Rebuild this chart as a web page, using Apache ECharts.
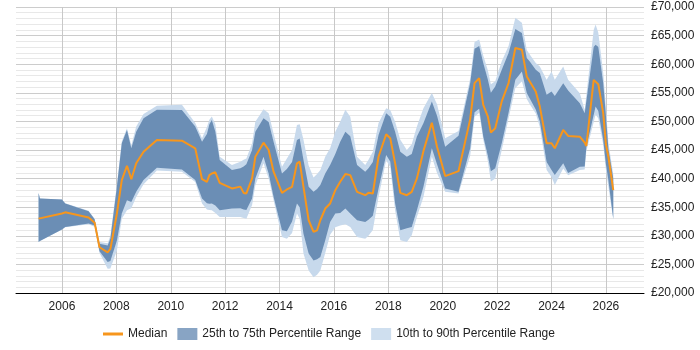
<!DOCTYPE html>
<html>
<head>
<meta charset="utf-8">
<title>Salary percentiles</title>
<script src="https://cdn.jsdelivr.net/npm/echarts@6/dist/echarts.min.js"></script>
<style>
  html, body { margin: 0; padding: 0; background: #fff; }
  #chart { width: 700px; height: 350px; }
</style>
</head>
<body>
<div id="chart"></div>
<script>
// decimal years of each sample
const periods = [
  2005.14, 2005.19, 2006.0, 2006.12, 2006.98, 2007.2, 2007.38, 2007.68, 2007.78, 2008.02,
  2008.2, 2008.39, 2008.55, 2008.73, 2009.0, 2009.49, 2010.41, 2010.9, 2011.15, 2011.33,
  2011.42, 2011.51, 2011.64, 2011.8, 2012.25, 2012.56, 2012.68, 2012.78, 2012.99, 2013.11,
  2013.41, 2013.6, 2013.78, 2014.09, 2014.27, 2014.46, 2014.64, 2014.74, 2014.88, 2015.07,
  2015.25, 2015.38, 2015.5, 2015.68, 2015.86, 2016.05, 2016.23, 2016.42, 2016.6, 2016.85,
  2017.15, 2017.27, 2017.43, 2017.64, 2017.92, 2018.07, 2018.25, 2018.44, 2018.68, 2018.86,
  2019.05, 2019.29, 2019.6, 2019.79, 2020.09, 2020.58, 2021.01, 2021.17, 2021.34, 2021.49,
  2021.66, 2021.77, 2021.93, 2022.17, 2022.42, 2022.67, 2022.91, 2023.09, 2023.2, 2023.42,
  2023.57, 2023.82, 2024.0, 2024.12, 2024.43, 2024.61, 2025.04, 2025.22, 2025.28, 2025.55,
  2025.62, 2025.72, 2025.9, 2026.0, 2026.09, 2026.27
];
const p10 = [
  28900, 29100, 31100, 31500, 32000, 31600, 27000, 24250, 24300, 27450,
  33000, 34470, 34800, 36800, 39000, 41400, 41200, 39400, 35650, 34600,
  34500, 34470, 34000, 33300, 33300, 33300, 33100, 33000, 35400, 38800,
  42700, 40000, 36200, 29790, 29500, 30500, 33900, 33000, 26900, 23950,
  22770, 23200, 23950, 27000, 30200, 31500, 31800, 32000, 31550, 29790,
  29500, 30000, 31000, 36800, 43200, 42000, 34400, 29210, 28900, 30100,
  33300, 36800, 43800, 41000, 37680, 37400, 44000, 50800, 51500, 46800,
  43000, 39500, 40000, 45000, 50500, 55820, 57000, 53900, 53000, 51400,
  49000, 41490, 40300, 38860, 41780, 40600, 41500, 41600, 44800, 51000,
  51200, 50500, 45900, 41500, 38600, 32800
];
const p25 = [
  28900, 29100, 31100, 31550, 32140, 31800, 27300, 25400, 25600, 29200,
  33900, 36230, 35930, 37680, 39740, 41900, 41600, 39740, 36530, 35700,
  35600, 35650, 35300, 34470, 34770, 34800, 34600, 34500, 36530, 40000,
  43820, 40900, 36810, 30960, 30800, 32500, 35650, 35000, 30380, 26900,
  25700, 25900, 26300, 29210, 32420, 33900, 34000, 34770, 33900, 32720,
  32420, 32800, 33500, 38280, 44120, 43000, 35650, 30960, 31300, 31550,
  34470, 38560, 45300, 42500, 38280, 37680, 45300, 51600, 52200, 47340,
  44000, 41300, 41800, 46170, 51500, 57280, 58740, 54950, 54000, 52100,
  50000, 42900, 41500, 40610, 42670, 41000, 42070, 42100, 45500, 52300,
  52600, 51800, 46760, 42500, 39740, 33000
];
const median = [
  33000, 33050, 33900, 34100, 33200, 32300, 28000, 27100, 27700, 33900,
  39740, 42250, 39900, 42670, 44700, 46760, 46630, 45300, 39900, 39440,
  40600, 40900, 41100, 39260, 38280, 38600, 37500, 37400, 40030, 43820,
  46280, 45000, 41200, 37510, 38100, 38560, 42670, 42950, 38560, 32720,
  30670, 30960, 32720, 34770, 35650, 37980, 39440, 40790, 40610, 37690,
  37100, 37510, 37400, 43820, 47750, 47050, 42670, 37510, 37100, 37690,
  40030, 44800, 49760, 45580, 40440, 41300, 50400, 56700, 57570, 52900,
  50830, 48030, 48800, 53500, 56690, 62830, 62540, 57870, 56970, 55210,
  52590, 46180, 46180, 45300, 48500, 47450, 47330, 46300, 45700, 57260,
  57000, 56500, 51440, 46000, 43820, 37990
];
const p75 = [
  37500, 36500, 36350, 35650, 34300, 32900, 28600, 28300, 29500, 38560,
  46170, 48500, 45300, 48200, 50560, 52020, 52000, 49100, 46460, 47800,
  49500, 50260, 48200, 43250, 41490, 41800, 42100, 42500, 45000, 48200,
  50560, 49900, 46460, 40900, 41700, 42900, 46760, 47000, 43250, 38560,
  37680, 38200, 38900, 40900, 42370, 44300, 46460, 48200, 47400, 42370,
  41200, 41800, 42900, 47630, 51440, 50800, 48200, 44700, 43800, 44300,
  47340, 49670, 53480, 51000, 45580, 47500, 56700, 62700, 63200, 60210,
  57300, 55000, 56100, 59040, 61960, 66170, 65470, 61080, 60470, 59040,
  58440, 54640, 55210, 54460, 56690, 55400, 53180, 51430, 51500, 63000,
  63420, 63000, 56700, 51000, 45200, 40000
];
const p90 = [
  37500, 36500, 36350, 35700, 34400, 33000, 28900, 28700, 30000, 39000,
  46500, 48800, 45800, 49100, 51300, 52720, 52900, 49700, 47050, 49000,
  50300, 50850, 49500, 43800, 42370, 42950, 43300, 43500, 46200, 49960,
  52140, 51440, 47900, 42070, 43500, 45000, 49390, 49500, 46800, 42300,
  40200, 40800, 41500, 43800, 45300, 48200, 49960, 52020, 50800, 43800,
  42370, 43300, 44700, 49700, 52310, 52000, 49960, 46800, 45000, 46000,
  49100, 52310, 54950, 53000, 47050, 48300, 57500, 63900, 64300, 61500,
  58900, 56500, 57000, 60500, 63200, 68100, 67230, 62500, 61700, 60200,
  59600, 57260, 58720, 57260, 59600, 57300, 54940, 52000, 52300, 66000,
  66930, 65500, 58500, 52500, 46300, 40700
];
const yTicks = { min: 20000, max: 70000, step: 5000 };
const xRange = [2004.31, 2027.4];

const YEAR_MS = 365.2425 * 86400000;
function toMs(yr) {
  return (yr - 1970) * YEAR_MS;
}
function pairs(values) {
  return periods.map((p, i) => [toMs(p), values[i]]);
}
function diff(hi, lo) {
  return periods.map((p, i) => [toMs(p), hi[i] - lo[i]]);
}

const darkBand = '#6b8eb5';
const lightBand = '#c7d9ec';
const orange = '#f7961c';
const font = 'Liberation Sans, Arial, sans-serif';

const chart = echarts.init(document.getElementById('chart'), null, { renderer: 'canvas' });

const hidden = {
  type: 'line',
  xAxisIndex: 1,
  symbol: 'none',
  silent: true,
  lineStyle: { opacity: 0 },
  emphasis: { disabled: true },
};

chart.setOption({
  animation: false,
  backgroundColor: '#fff',
  grid: { left: 16, right: 56, top: 7, bottom: 57, outerBoundsMode: 'none' },
  legend: {
    left: 98,
    top: 323,
    itemWidth: 20,
    itemHeight: 12,
    itemGap: 10,
    textStyle: { color: '#222', fontSize: 12, fontFamily: font },
    data: [
      { name: 'Median', icon: 'path://M0,0H20V3H0Z', itemStyle: { color: orange } },
      { name: '25th to 75th Percentile Range', icon: 'rect', itemStyle: { color: '#88a4c4' } },
      { name: '10th to 90th Percentile Range', icon: 'rect', itemStyle: { color: '#cfdfef' } },
    ],
  },
  xAxis: [
    {
      type: 'value',
      min: xRange[0],
      max: xRange[1],
      minInterval: 2,
      maxInterval: 2,
      axisLine: { lineStyle: { color: '#000', width: 1 } },
      axisTick: { show: false },
      axisLabel: {
        color: '#222',
        fontSize: 12,
        fontFamily: font,
        showMinLabel: false,
        showMaxLabel: false,
        formatter: (v) => (v % 2 === 0 ? String(v) : ''),
      },
      splitLine: {
        show: true,
        showMinLine: false,
        showMaxLine: false,
        lineStyle: { color: '#c8c8c8' },
      },
    },
    {
      type: 'time',
      show: false,
      min: toMs(xRange[0]),
      max: toMs(xRange[1]),
    },
  ],
  yAxis: {
    type: 'value',
    position: 'right',
    min: yTicks.min,
    max: yTicks.max,
    interval: yTicks.step,
    axisLine: { show: false },
    axisTick: { show: false },
    minorTick: { show: false, splitNumber: 5 },
    axisLabel: {
      color: '#222',
      fontSize: 12,
      fontFamily: font,
      margin: 7,
      formatter: (v) => '£' + v.toLocaleString('en-GB'),
    },
    splitLine: { lineStyle: { color: '#cccccc' } },
    minorSplitLine: { show: true, lineStyle: { color: '#e8e8e8' } },
  },
  series: [
    Object.assign({}, hidden, { name: 'p10', stack: 'outer', data: pairs(p10) }),
    Object.assign({}, hidden, {
      name: '10th to 90th Percentile Range',
      stack: 'outer',
      color: lightBand,
      areaStyle: { color: lightBand, opacity: 1 },
      data: diff(p90, p10),
    }),
    Object.assign({}, hidden, { name: 'p25', stack: 'inner', data: pairs(p25) }),
    Object.assign({}, hidden, {
      name: '25th to 75th Percentile Range',
      stack: 'inner',
      color: darkBand,
      areaStyle: { color: darkBand, opacity: 1 },
      data: diff(p75, p25),
    }),
    {
      name: 'Median',
      type: 'line',
      xAxisIndex: 1,
      symbol: 'none',
      color: orange,
      lineStyle: { color: orange, width: 2 },
      z: 5,
      data: pairs(median),
    },
  ],
});
</script>
</body>
</html>
